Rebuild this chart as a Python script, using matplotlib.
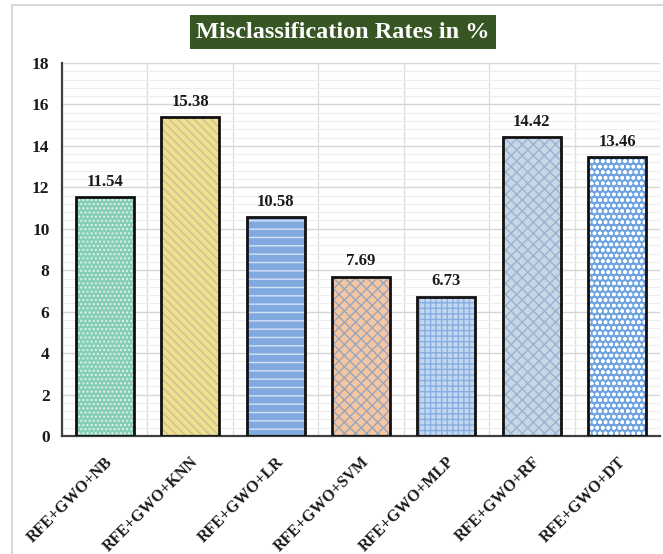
import matplotlib
matplotlib.use("Agg")
import matplotlib.pyplot as plt
from matplotlib.patches import Rectangle
from matplotlib.ticker import MultipleLocator
import numpy as np

# Tasas de error por combinacion de seleccion de caracteristicas + clasificador
modelos = ["RFE+GWO+NB", "RFE+GWO+KNN", "RFE+GWO+LR", "RFE+GWO+SVM",
           "RFE+GWO+MLP", "RFE+GWO+RF", "RFE+GWO+DT"]
tasas = [11.54, 15.38, 10.58, 7.69, 6.73, 14.42, 13.46]

# relleno, color de trama y trama para cada barra
rellenos = ["#84cdb9", "#efe08e", "#80a9e0", "#f5c6a2", "#c3d7f1", "#cbd6e4", "#6fa4e0"]
tramas_color = ["#e4f3dc", "#c9bf98", "#d3e2f5", "#9aa6bc", "#86aee0", "#97b3d6", "#ffffff"]
tramas = ["....", "\\\\\\\\", "--", "xxx", "+++", "xxx", "ooo"]

SERIF = ["Liberation Serif", "DejaVu Serif"]
plt.rcParams["hatch.linewidth"] = 1.0

fig = plt.figure(figsize=(6.63, 5.54), dpi=100)
fig.patch.set_facecolor("white")

# marco del area del grafico
fig.add_artist(Rectangle((12 / 663, -0.1), 1.2, 1.1 - 5 / 554, transform=fig.transFigure,
                         fill=False, edgecolor="#d0d0d0", linewidth=1.2))

ax = fig.add_axes([62 / 663, 1 - 436 / 554, 598 / 663, 373 / 554])
x = np.arange(len(modelos))

for i, (v, fc, hc, h) in enumerate(zip(tasas, rellenos, tramas_color, tramas)):
    ax.bar(x[i], v, width=0.68, color=fc, edgecolor=hc, hatch=h, linewidth=0, zorder=2)
    ax.bar(x[i], v, width=0.68, fill=False, edgecolor="#111111", linewidth=2.0, zorder=3)
    ax.text(x[i], v + 0.35, f"{v:.2f}", ha="center", va="bottom",
            fontsize=12, fontweight="bold", family=SERIF, color="#1a1a1a")

ax.set_xlim(-0.5, 6.5)
ax.set_ylim(0, 18)
ax.yaxis.set_major_locator(MultipleLocator(2))
ax.yaxis.set_minor_locator(MultipleLocator(0.4))
ax.xaxis.set_minor_locator(MultipleLocator(0.5))
ax.set_xticks(x)
ax.set_xticklabels(modelos, rotation=45, ha="right", rotation_mode="anchor",
                   fontsize=11.5, fontweight="bold", family=SERIF, color="#1a1a1a")
for lbl in ax.get_yticklabels():
    lbl.set_fontfamily(SERIF)
    lbl.set_fontweight("bold")
    lbl.set_fontsize(12.5)
    lbl.set_color("#1a1a1a")

ax.tick_params(axis="both", which="both", length=0)
ax.tick_params(axis="y", pad=9)
ax.tick_params(axis="x", pad=13)

ax.grid(True, which="major", axis="y", color="#d6d6d6", linewidth=1.0, zorder=0)
ax.grid(True, which="minor", axis="y", color="#ededed", linewidth=0.8, zorder=0)
ax.grid(True, which="minor", axis="x", color="#dedede", linewidth=0.9, zorder=0)
ax.set_axisbelow(True)

for s in ["top", "right"]:
    ax.spines[s].set_visible(False)
ax.spines["left"].set_color("#404040")
ax.spines["bottom"].set_color("#404040")
ax.spines["left"].set_linewidth(1.6)
ax.spines["bottom"].set_linewidth(1.6)

fig.text(343 / 663, 1 - 32 / 554, "Misclassification Rates in %", ha="center", va="center",
         fontsize=17.5, fontweight="bold", family=SERIF, color="white",
         bbox=dict(boxstyle="square,pad=0.25", facecolor="#375623", edgecolor="none"))

fig.savefig("out.png", dpi=100, facecolor="white")
